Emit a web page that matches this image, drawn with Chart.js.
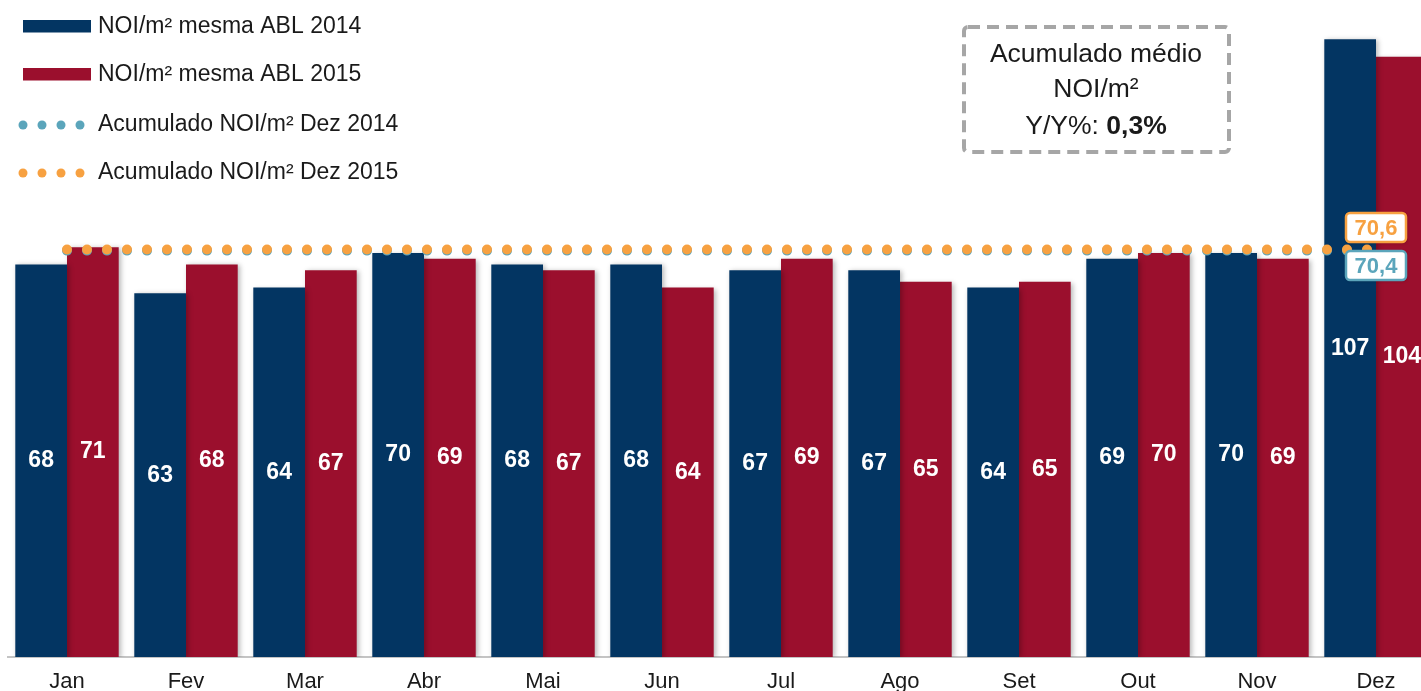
<!DOCTYPE html>
<html>
<head>
<meta charset="utf-8">
<script src="https://cdn.jsdelivr.net/npm/chart.js@4"></script>
<style>
  html, body { margin: 0; padding: 0; background: #fff; overflow: hidden; }
  #wrap { width: 1436px; height: 691px; position: relative; }
</style>
</head>
<body>
<div id="wrap"><canvas id="noiChart"></canvas></div>
<script>
const months = ['Jan', 'Fev', 'Mar', 'Abr', 'Mai', 'Jun', 'Jul', 'Ago', 'Set', 'Out', 'Nov', 'Dez'];
const noi2014 = [68, 63, 64, 70, 68, 68, 67, 67, 64, 69, 70, 107];
const noi2015 = [71, 68, 67, 69, 67, 64, 69, 65, 65, 70, 69, 104];
const acum2014 = [70.4, 70.4, 70.4, 70.4, 70.4, 70.4, 70.4, 70.4, 70.4, 70.4, 70.4, 70.4];
const acum2015 = [70.6, 70.6, 70.6, 70.6, 70.6, 70.6, 70.6, 70.6, 70.6, 70.6, 70.6, 70.6];
const boxLines = ['Acumulado médio', 'NOI/m²', 'Y/Y%: ', '0,3%'];

const BLUE = '#033562';
const RED = '#9b0f2d';
const TEAL = '#5ba5bb';
const ORANGE = '#f7a141';
const FONT = '"Liberation Sans", Arial, Helvetica, sans-serif';

function fmt(v) {
  return String(v).replace('.', ',');
}

// soft shadow under the bars
const barShadow = {
  id: 'barShadow',
  beforeDatasetDraw(chart, args) {
    if (args.meta.type !== 'bar') return;
    const ctx = chart.ctx;
    ctx.save();
    ctx.shadowColor = 'rgba(0,0,0,0.28)';
    ctx.shadowBlur = 5;
    ctx.shadowOffsetX = 2;
    ctx.shadowOffsetY = 1;
  },
  afterDatasetDraw(chart, args) {
    if (args.meta.type !== 'bar') return;
    chart.ctx.restore();
  }
};

// white values in the middle of each bar + boxes at the end of the lines
const valueLabels = {
  id: 'valueLabels',
  afterDatasetsDraw(chart) {
    const ctx = chart.ctx;
    ctx.save();
    chart.data.datasets.forEach((ds, i) => {
      const meta = chart.getDatasetMeta(i);
      if (meta.type === 'bar') {
        ctx.font = 'bold 23px ' + FONT;
        ctx.fillStyle = '#fff';
        ctx.textAlign = 'center';
        ctx.textBaseline = 'middle';
        meta.data.forEach((el, j) => {
          ctx.fillText(fmt(ds.data[j]), el.x, (el.y + el.base) / 2);
        });
      } else {
        const last = meta.data[meta.data.length - 1];
        const cy = last.y + ds.labelOffset;
        const w = 60, h = 29;
        const x0 = last.x - w / 2, y0 = cy - h / 2;
        ctx.save();
        ctx.shadowColor = 'rgba(0,0,0,0.25)';
        ctx.shadowBlur = 3;
        ctx.shadowOffsetX = 1;
        ctx.shadowOffsetY = 1;
        ctx.beginPath();
        ctx.roundRect(x0, y0, w, h, 4);
        ctx.fillStyle = '#fff';
        ctx.fill();
        ctx.restore();
        ctx.beginPath();
        ctx.roundRect(x0, y0, w, h, 4);
        ctx.lineWidth = 2.5;
        ctx.strokeStyle = ds.borderColor;
        ctx.stroke();
        ctx.font = 'bold 22px ' + FONT;
        ctx.fillStyle = ds.borderColor;
        ctx.textAlign = 'center';
        ctx.textBaseline = 'middle';
        ctx.fillText(fmt(ds.data[ds.data.length - 1]), last.x, cy + 1);
      }
    });
    ctx.restore();
  }
};

// legend on the top-left and dashed note box on the top-right
const overlay = {
  id: 'overlay',
  afterDraw(chart) {
    const ctx = chart.ctx;
    ctx.save();
    const rows = [26, 74, 124, 172];
    const order = [2, 3, 1, 0];
    ctx.font = '23px ' + FONT;
    ctx.textBaseline = 'middle';
    ctx.textAlign = 'left';
    order.forEach((di, k) => {
      const ds = chart.data.datasets[di];
      const y = rows[k];
      if (ds.type === 'bar') {
        ctx.fillStyle = ds.backgroundColor;
        ctx.fillRect(23, y - 6, 68, 12.5);
      } else {
        ctx.fillStyle = ds.borderColor;
        for (let d = 0; d < 4; d++) {
          ctx.beginPath();
          ctx.arc(23 + d * 19, y + 1, 4.5, 0, Math.PI * 2);
          ctx.fill();
        }
      }
      ctx.fillStyle = '#1a1a1a';
      ctx.fillText(ds.label, 98, y + 1);
    });

    // dashed box
    ctx.beginPath();
    ctx.roundRect(964, 27, 265, 125, 4);
    ctx.setLineDash([12, 7]);
    ctx.lineWidth = 4;
    ctx.strokeStyle = '#a6a6a6';
    ctx.stroke();
    ctx.setLineDash([]);
    const cx = 1096;
    ctx.fillStyle = '#1a1a1a';
    ctx.textAlign = 'center';
    ctx.font = '26.5px ' + FONT;
    ctx.fillText(boxLines[0], cx, 55);
    ctx.fillText(boxLines[1], cx, 90);
    const w1 = ctx.measureText(boxLines[2]).width;
    ctx.font = 'bold 26.5px ' + FONT;
    const w2 = ctx.measureText(boxLines[3]).width;
    const start = cx - (w1 + w2) / 2;
    ctx.textAlign = 'left';
    ctx.font = '26.5px ' + FONT;
    ctx.fillText(boxLines[2], start, 127);
    ctx.font = 'bold 26.5px ' + FONT;
    ctx.fillText(boxLines[3], start + w1, 127);
    ctx.restore();
  }
};

const ctx = document.getElementById('noiChart').getContext('2d');
const noiChart = new Chart(ctx, {
  data: {
    labels: months,
    datasets: [
      {
        type: 'line',
        label: 'Acumulado NOI/m² Dez 2015',
        data: acum2015,
        borderColor: ORANGE,
        borderWidth: 10,
        borderDash: [0, 20],
        borderCapStyle: 'round',
        pointRadius: 0,
        fill: false,
        tension: 0,
        order: 0,
        labelOffset: -22,
      },
      {
        type: 'line',
        label: 'Acumulado NOI/m² Dez 2014',
        data: acum2014,
        borderColor: TEAL,
        borderWidth: 10,
        borderDash: [0, 20],
        borderCapStyle: 'round',
        pointRadius: 0,
        fill: false,
        tension: 0,
        order: 1,
        labelOffset: 15,
      },
      {
        type: 'bar',
        label: 'NOI/m² mesma ABL 2014',
        data: noi2014,
        backgroundColor: BLUE,
        categoryPercentage: 0.869,
        barPercentage: 1.0,
        order: 2,
      },
      {
        type: 'bar',
        label: 'NOI/m² mesma ABL 2015',
        data: noi2015,
        backgroundColor: RED,
        categoryPercentage: 0.869,
        barPercentage: 1.0,
        order: 3,
      },
    ],
  },
  options: {
    responsive: true,
    maintainAspectRatio: false,
    animation: false,
    layout: {
      padding: { left: 7.5, right: 0.5, top: 22, bottom: 0 },
    },
    plugins: {
      legend: { display: false },
      tooltip: { enabled: false },
    },
    scales: {
      x: {
        offset: true,
        grid: { display: false, drawTicks: false },
        border: { display: true, color: '#c4c4c4', width: 2 },
        ticks: {
          color: '#1a1a1a',
          padding: 12,
          font: { family: FONT, size: 22 },
        },
        afterFit(scale) {
          scale.height = 34;
        },
      },
      y: {
        display: false,
        min: 0,
        max: 110,
      },
    },
  },
  plugins: [barShadow, valueLabels, overlay],
});
</script>
</body>
</html>
